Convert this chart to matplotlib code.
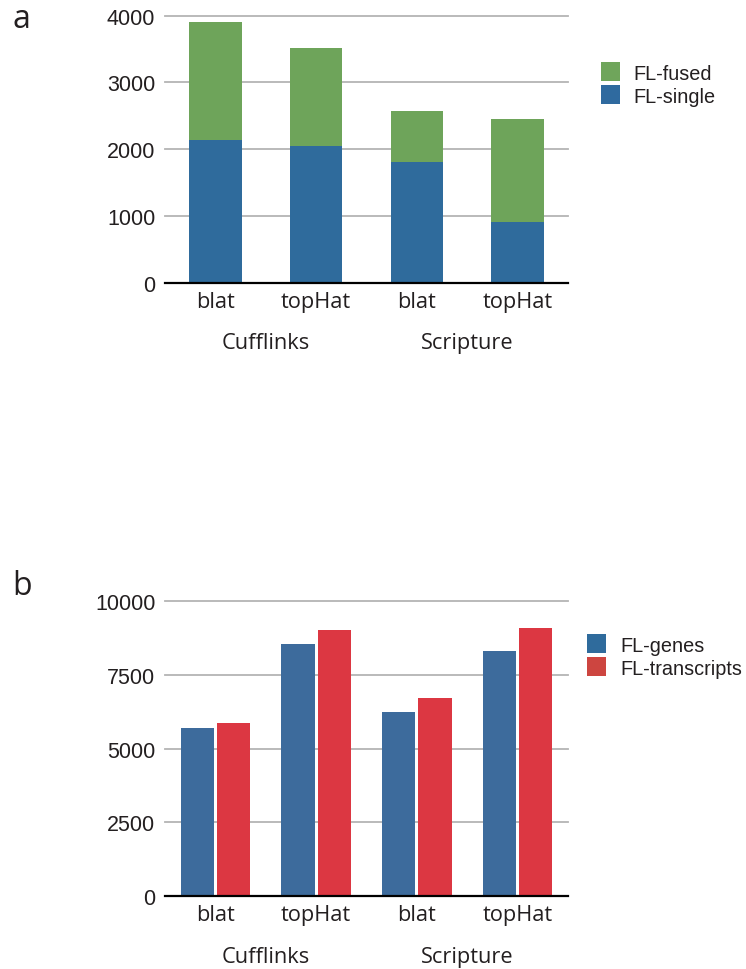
import matplotlib
matplotlib.use("Agg")
import matplotlib.pyplot as plt
from matplotlib.patches import Rectangle
import numpy as np

# ---- data ----
methods = ["blat", "topHat", "blat", "topHat"]
groups = ["Cufflinks", "Scripture"]

a_series = ["FL-fused", "FL-single"]
a_single = [2140, 2050, 1810, 910]
a_fused = [1766, 1466, 762, 1542]
a_yticks = [0, 1000, 2000, 3000, 4000]

b_series = ["FL-genes", "FL-transcripts"]
b_genes = [5700, 8550, 6245, 8315]
b_transcripts = [5870, 9025, 6720, 9095]
b_yticks = [0, 2500, 5000, 7500, 10000]

W, H = 746, 970
fig = plt.figure(figsize=(W / 100, H / 100), dpi=100)

TICK_FONT = ["Liberation Sans", "DejaVu Sans"]
CAT_FONT = ["Open Sans", "DejaVu Sans"]
TXT = "#231f20"


def px_axes(left, top, right, bottom):
    return fig.add_axes([left / W, 1 - bottom / H, (right - left) / W, (bottom - top) / H])


def style(ax, yticks):
    ax.set_xlim(-0.5, 3.5)
    ax.set_ylim(0, yticks[-1])
    ax.set_yticks(yticks)
    ax.set_yticklabels([str(t) for t in yticks], fontfamily=TICK_FONT, fontsize=15.5, color=TXT)
    ax.tick_params(axis="y", length=0, pad=7)
    ax.tick_params(axis="x", length=0, labelbottom=False)
    for s in ax.spines.values():
        s.set_visible(False)
    ax.set_axisbelow(True)
    for t in yticks[1:]:
        ax.axhline(t, color="#b4b4b4", lw=1.3, zorder=0, clip_on=False)
    ax.axhline(0, color="black", lw=1.6, zorder=5, clip_on=False)
    xs = np.arange(len(methods))
    for x, m in zip(xs, methods):
        ax.annotate(m, xy=(x, 0), xycoords=("data", "axes fraction"),
                    xytext=(0, -17.6), textcoords="offset points",
                    ha="center", va="baseline", fontfamily=CAT_FONT, fontsize=15.7, color=TXT)
    for gi, g in enumerate(groups):
        ax.annotate(g, xy=(2 * gi + 0.5, 0), xycoords=("data", "axes fraction"),
                    xytext=(0, -47.3), textcoords="offset points",
                    ha="center", va="baseline", fontfamily=CAT_FONT, fontsize=15.7, color=TXT)


def legend(items, sq_x, text_x, tops):
    for (label, color), top in zip(items, tops):
        fig.add_artist(Rectangle((sq_x / W, 1 - (top + 19) / H), 19 / W, 19 / H,
                                 transform=fig.transFigure, facecolor=color, edgecolor="none"))
        fig.text(text_x / W, 1 - (top + 9.5) / H, label, ha="left", va="center_baseline",
                 fontfamily=TICK_FONT, fontsize=14.3, color=TXT)


# ---- panel a ----
ax1 = px_axes(165, 16.7, 568, 283.7)
x = np.arange(len(methods))
ax1.bar(x, a_single, width=0.52, color="#2f6b9c", zorder=2)
ax1.bar(x, a_fused, bottom=a_single, width=0.52, color="#6ea45a", zorder=2)
style(ax1, a_yticks)
legend([(a_series[0], "#6fa55b"), (a_series[1], "#2f6a9f")], 601, 633, [63.3, 86])
fig.text(12 / W, 1 - 28 / H, "a", fontfamily=CAT_FONT, fontsize=23, color=TXT, va="baseline")

# ---- panel b ----
ax2 = px_axes(165, 602.3, 568, 897)
off = 0.179
ax2.bar(x - off, b_genes, width=0.33, color="#3d6b9c", zorder=2)
ax2.bar(x + off, b_transcripts, width=0.33, color="#dc3742", zorder=2)
style(ax2, b_yticks)
legend([(b_series[0], "#2f6b9c"), (b_series[1], "#cd4540")], 587, 620, [635, 658])
fig.text(12 / W, 1 - 595 / H, "b", fontfamily=CAT_FONT, fontsize=23, color=TXT, va="baseline")

fig.savefig("out.png", dpi=100, facecolor="white")
